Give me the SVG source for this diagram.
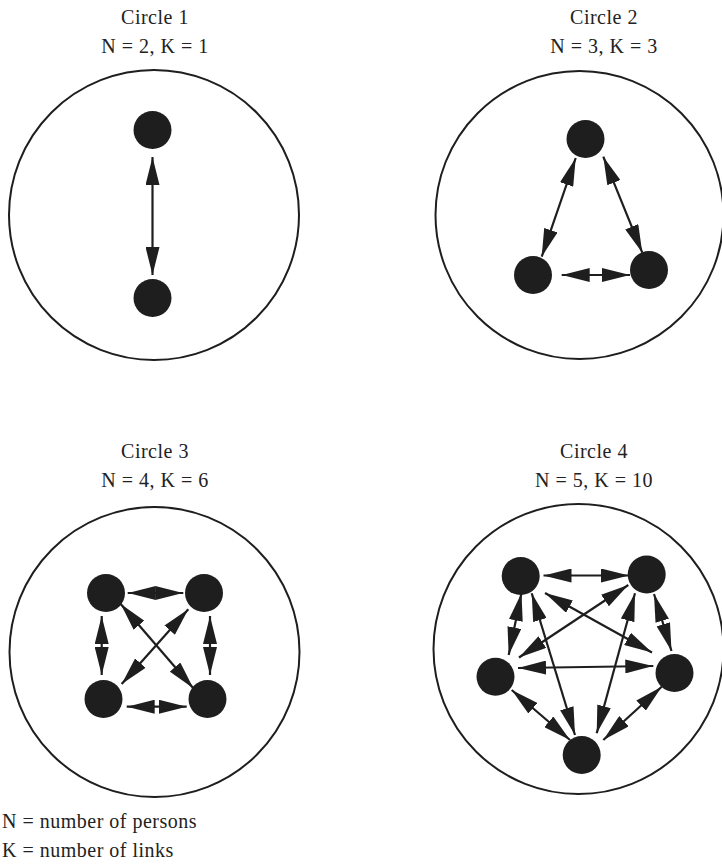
<svg xmlns="http://www.w3.org/2000/svg" width="722" height="866" viewBox="0 0 722 866">
<style>
text{font-family:"Liberation Serif","Times New Roman",serif;font-size:20px;fill:#222;letter-spacing:0.5px}
.c{text-anchor:middle}
.ring{fill:none;stroke:#1e1e1e;stroke-width:2}
.node{fill:#1e1e1e}
.ln{stroke:#1e1e1e;stroke-width:2.2;fill:none;marker-start:url(#ah);marker-end:url(#ah)}
</style>
<defs>
<marker id="ah" markerUnits="userSpaceOnUse" markerWidth="28" markerHeight="14" refX="28" refY="7" orient="auto-start-reverse" viewBox="0 0 28 14"><path d="M0,0 L28,7 L0,14 z" fill="#1e1e1e"/></marker>
</defs>

<g id="circle1">
<text class="c" x="155" y="24">Circle 1</text>
<text class="c" x="155" y="53">N = 2, K = 1</text>
<circle class="ring" cx="154" cy="215" r="145"/>
<g id="c1-n1"><circle class="node" cx="152.5" cy="130" r="19"/></g>
<g id="c1-n2"><circle class="node" cx="152.5" cy="298" r="19"/></g>
</g>

<g id="circle2">
<text class="c" x="604" y="24">Circle 2</text>
<text class="c" x="604" y="53">N = 3, K = 3</text>
<circle class="ring" cx="579.5" cy="215" r="144"/>
<g id="c2-n1"><circle class="node" cx="585.5" cy="139" r="19"/></g>
<g id="c2-n2"><circle class="node" cx="533" cy="275" r="19"/></g>
<g id="c2-n3"><circle class="node" cx="649" cy="270" r="19"/></g>
</g>

<g id="circle3">
<text class="c" x="155" y="458">Circle 3</text>
<text class="c" x="155" y="487">N = 4, K = 6</text>
<circle class="ring" cx="154.5" cy="652" r="145"/>
<g id="c3-n1"><circle class="node" cx="106" cy="593" r="19"/></g>
<g id="c3-n2"><circle class="node" cx="204" cy="593" r="19"/></g>
<g id="c3-n3"><circle class="node" cx="103.5" cy="699" r="19"/></g>
<g id="c3-n4"><circle class="node" cx="207.5" cy="699" r="19"/></g>
</g>

<g id="circle4">
<text class="c" x="594" y="458">Circle 4</text>
<text class="c" x="594" y="487">N = 5, K = 10</text>
<circle class="ring" cx="578.5" cy="649" r="145"/>
<g id="c4-n1"><circle class="node" cx="520.7" cy="576" r="19"/></g>
<g id="c4-n2"><circle class="node" cx="646.7" cy="574.5" r="19"/></g>
<g id="c4-n3"><circle class="node" cx="495.5" cy="676.7" r="19"/></g>
<g id="c4-n4"><circle class="node" cx="674.5" cy="673" r="19"/></g>
<g id="c4-n5"><circle class="node" cx="581.7" cy="755" r="19"/></g>
</g>

<g id="connectors">
<line class="ln" x1="152.5" y1="157" x2="152.5" y2="275"/>

<line class="ln" x1="575.7" y1="158" x2="541.7" y2="256.7"/>
<line class="ln" x1="603.3" y1="156.7" x2="642.3" y2="252.7"/>
<line class="ln" x1="561.7" y1="275" x2="630" y2="275"/>

<line class="ln" x1="127.7" y1="593" x2="183.3" y2="593"/>
<line class="ln" x1="101.7" y1="616" x2="101.7" y2="675"/>
<line class="ln" x1="210" y1="616" x2="210" y2="675"/>
<line class="ln" x1="126.7" y1="706.7" x2="186.7" y2="706.7"/>
<line class="ln" x1="120.7" y1="604" x2="193.3" y2="688.3"/>
<line class="ln" x1="188.3" y1="609.3" x2="121.7" y2="684"/>

<line class="ln" x1="543.5" y1="575.5" x2="629" y2="575.5"/>
<line class="ln" x1="521.5" y1="593" x2="508.7" y2="655"/>
<line class="ln" x1="531.7" y1="593.3" x2="575" y2="735"/>
<line class="ln" x1="545" y1="593" x2="652" y2="652.5"/>
<line class="ln" x1="628.3" y1="585" x2="519" y2="657.5"/>
<line class="ln" x1="635" y1="593.3" x2="596.7" y2="733.3"/>
<line class="ln" x1="654" y1="594" x2="671.5" y2="651"/>
<line class="ln" x1="518" y1="668" x2="653.3" y2="666"/>
<line class="ln" x1="511.7" y1="690" x2="570" y2="740"/>
<line class="ln" x1="661.7" y1="686.7" x2="603.3" y2="740"/>
</g>

<g id="legend">
<text x="2" y="828">N = number of persons</text>
<text x="2" y="857">K = number of links</text>
</g>
</svg>
